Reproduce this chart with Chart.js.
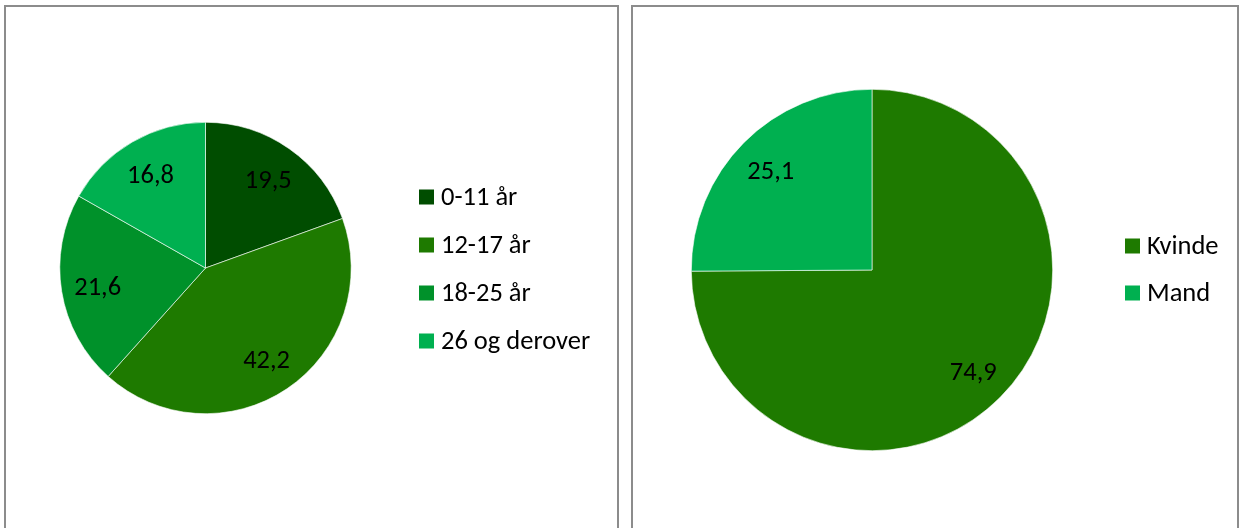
<!DOCTYPE html>
<html><head><meta charset="utf-8">
<script src="https://cdn.jsdelivr.net/npm/chart.js@4/dist/chart.umd.min.js"></script>
<style>
html,body{margin:0;padding:0;background:#fff;width:1241px;height:528px;overflow:hidden;}
.box{position:absolute;border:2px solid #8c8c8c;border-bottom:none;box-sizing:border-box;}
canvas{position:absolute;}
</style></head><body>
<div class="box" style="left:4px;top:5px;width:615px;height:530px;"></div>
<div class="box" style="left:631px;top:5px;width:608px;height:530px;"></div>
<div id="w1" style="position:absolute;left:0;top:0;width:620px;height:528px;"><canvas id="c1"></canvas></div>
<div id="w2" style="position:absolute;left:620px;top:0;width:621px;height:528px;"><canvas id="c2"></canvas></div>
<script>
const ageLabels = ['0-11 år', '12-17 år', '18-25 år', '26 og derover'];
const ageValues = [19.5, 42.2, 21.6, 16.8];
const ageColors = ['#004D00', '#1E7A00', '#00912A', '#00B050'];
const genderLabels = ['Kvinde', 'Mand'];
const genderValues = [74.9, 25.1];
const genderColors = ['#1E7A00', '#00B050'];

const FONT = 'Carlito, Calibri, Lato, sans-serif';
const FSIZE = 26.5;

const labelPlugin = {
  id: 'sliceLabels',
  afterDatasetsDraw(chart, args, opts) {
    const ctx = chart.ctx;
    const meta = chart.getDatasetMeta(0);
    ctx.save();
    ctx.font = FSIZE + 'px ' + FONT;
    ctx.fillStyle = '#000';
    ctx.textAlign = 'center';
    ctx.textBaseline = 'middle';
    meta.data.forEach((arc, i) => {
      const a = (arc.startAngle + arc.endAngle) / 2;
      const r = arc.outerRadius * opts.factor;
      const v = chart.data.datasets[0].data[i];
      ctx.fillText(v.toFixed(1).replace('.', ','), arc.x + Math.cos(a) * r, arc.y + Math.sin(a) * r + 3);
    });
    ctx.restore();
  }
};

const legendPlugin = {
  id: 'customLegend',
  afterDraw(chart, args, opts) {
    const ctx = chart.ctx;
    const ds = chart.data.datasets[0];
    ctx.save();
    ctx.font = FSIZE + 'px ' + FONT;
    ctx.textBaseline = 'middle';
    ctx.textAlign = 'left';
    chart.data.labels.forEach((lab, i) => {
      const y = opts.y0 + i * opts.step;
      ctx.fillStyle = ds.backgroundColor[i];
      ctx.fillRect(opts.x, y - 7.5, 15, 15);
      ctx.fillStyle = '#000';
      ctx.fillText(lab, opts.x + 22, y + 1);
    });
    ctx.restore();
  }
};

function makePie(id, labels, values, colors, padding, factor, legend) {
  return new Chart(document.getElementById(id), {
    type: 'pie',
    data: { labels: labels, datasets: [{ data: values, backgroundColor: colors, borderColor: '#ffffff', borderWidth: 0.6 }] },
    options: {
      responsive: true, maintainAspectRatio: false, animation: false,
      layout: { padding: padding },
      plugins: { legend: { display: false }, tooltip: { enabled: false },
        sliceLabels: { factor: factor }, customLegend: legend }
    },
    plugins: [labelPlugin, legendPlugin]
  });
}

makePie('c1', ageLabels, ageValues, ageColors,
  { left: 59.5, right: 268.5, top: 122, bottom: 114 }, 0.75,
  { x: 419, y0: 197, step: 48 });
makePie('c2', genderLabels, genderValues, genderColors,
  { left: 71, right: 188, top: 89, bottom: 77 }, 0.79,
  { x: 505, y0: 246, step: 47 });
</script>
</body></html>
